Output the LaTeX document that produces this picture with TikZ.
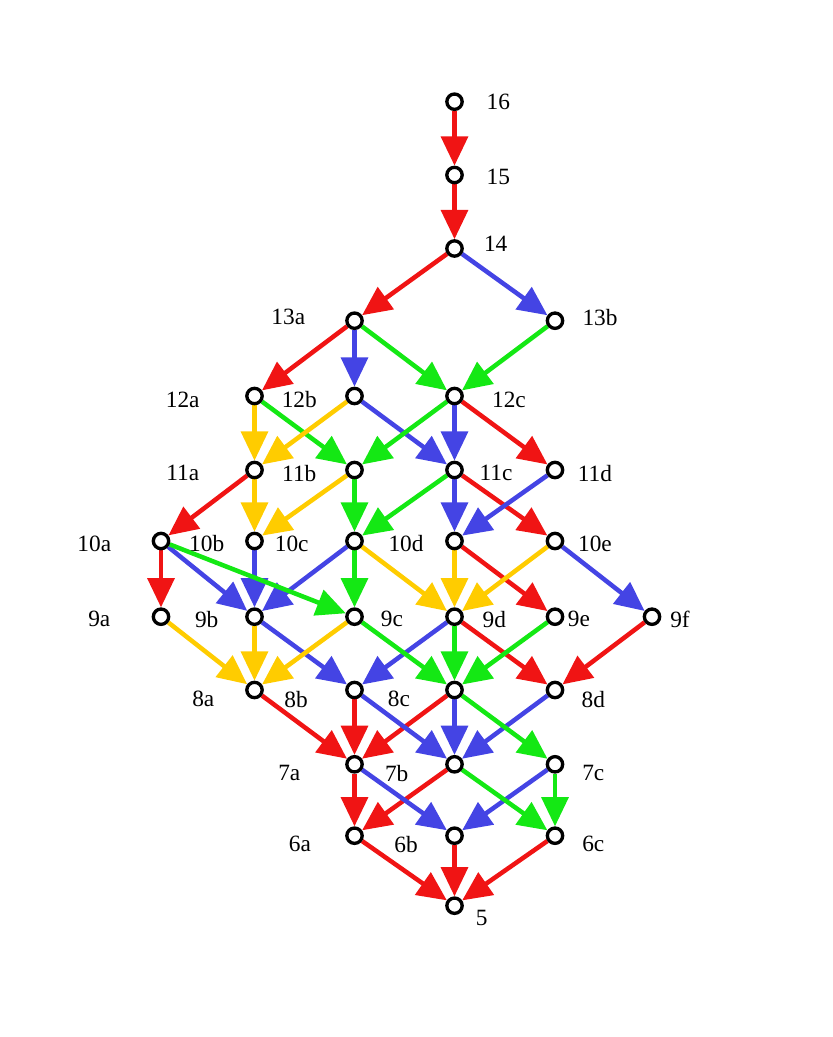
\documentclass[tikz,border=0pt]{standalone}
\usepackage{fontspec}
\setmainfont{Liberation Serif}
\usetikzlibrary{arrows.meta,backgrounds}
\definecolor{cred}{RGB}{240,20,20}
\definecolor{cblue}{RGB}{68,68,228}
\definecolor{cgreen}{RGB}{20,232,20}
\definecolor{cyel}{RGB}{255,204,0}
\begin{document}
\begin{tikzpicture}[x=0.75pt,y=-0.75pt,
  vtx/.style={circle,draw=black,fill=white,line width=2.5pt,minimum size=11.5pt,inner sep=0pt},
  lbl/.style={font=\fontsize{17.5}{17.5}\selectfont,inner sep=0pt},
  edge/.style={line width=3.4pt,-{Triangle[length=22pt,width=20pt]}},
  R/.style={edge,draw=cred,fill=cred},
  B/.style={edge,draw=cblue,fill=cblue},
  G/.style={edge,draw=cgreen,fill=cgreen},
  Y/.style={edge,draw=cyel,fill=cyel}]
\useasboundingbox (0,0) rectangle (832,1037);
% vertices
\node[vtx] (n16) at (454.5,101.7) {};
\node[vtx] (n15) at (454.5,175) {};
\node[vtx] (n14) at (454.5,248.5) {};
\node[vtx] (n13a) at (354.5,320.7) {};
\node[vtx] (n13b) at (555,320.7) {};
\node[vtx] (n12a) at (254.5,396) {};
\node[vtx] (n12b) at (354.5,396) {};
\node[vtx] (n12c) at (454.5,396) {};
\node[vtx] (n11a) at (254.5,470) {};
\node[vtx] (n11b) at (354.5,470) {};
\node[vtx] (n11c) at (454.5,470) {};
\node[vtx] (n11d) at (555,470) {};
\node[vtx] (n10a) at (161,541) {};
\node[vtx] (n10b) at (254.5,541) {};
\node[vtx] (n10c) at (354.5,541) {};
\node[vtx] (n10d) at (454.5,541) {};
\node[vtx] (n10e) at (555,541) {};
\node[vtx] (n9a) at (161,616.7) {};
\node[vtx] (n9b) at (254.5,616.7) {};
\node[vtx] (n9c) at (354.5,616.7) {};
\node[vtx] (n9d) at (454.5,616.7) {};
\node[vtx] (n9e) at (555,616.7) {};
\node[vtx] (n9f) at (652,616.7) {};
\node[vtx] (n8a) at (254.5,690) {};
\node[vtx] (n8b) at (354.5,690) {};
\node[vtx] (n8c) at (454.5,690) {};
\node[vtx] (n8d) at (555,690) {};
\node[vtx] (n7a) at (354.5,764.3) {};
\node[vtx] (n7b) at (454.5,764.3) {};
\node[vtx] (n7c) at (555,764.3) {};
\node[vtx] (n6a) at (354.5,835.7) {};
\node[vtx] (n6b) at (454.5,835.7) {};
\node[vtx] (n6c) at (555,835.7) {};
\node[vtx] (n5) at (454.5,905.7) {};
% labels
\node[lbl] (l16) at (498.3,102.3) {16};
\node[lbl] (l15) at (498.3,176.7) {15};
\node[lbl] (l14) at (495.7,243.3) {14};
\node[lbl] (l13a) at (288.3,317.3) {13a};
\node[lbl] (l13b) at (600,317.3) {13b};
\node[lbl] (l12a) at (182.7,399.5) {12a};
\node[lbl] (l12b) at (299.3,399.5) {12b};
\node[lbl] (l12c) at (509,399.5) {12c};
\node[lbl] (l11a) at (182.7,473.3) {11a};
\node[lbl] (l11b) at (299.3,473.3) {11b};
\node[lbl] (l11c) at (496,473.3) {11c};
\node[lbl] (l11d) at (595,473.3) {11d};
\node[lbl] (l10a) at (94.3,543.5) {10a};
\node[lbl] (l10b) at (206.7,543.5) {10b};
\node[lbl] (l10c) at (291.7,543.5) {10c};
\node[lbl] (l10d) at (406,543.5) {10d};
\node[lbl] (l10e) at (595,543.5) {10e};
\node[lbl] (l9a) at (99.3,619.3) {9a};
\node[lbl] (l9b) at (206.7,619.3) {9b};
\node[lbl] (l9c) at (392,619.3) {9c};
\node[lbl] (l9d) at (494.3,619.3) {9d};
\node[lbl] (l9e) at (579,619.3) {9e};
\node[lbl] (l9f) at (680,619.3) {9f};
\node[lbl] (l8a) at (203.3,699.3) {8a};
\node[lbl] (l8b) at (296,699.3) {8b};
\node[lbl] (l8c) at (399,699.3) {8c};
\node[lbl] (l8d) at (593.3,699.3) {8d};
\node[lbl] (l7a) at (289.3,773.3) {7a};
\node[lbl] (l7b) at (396.7,773.3) {7b};
\node[lbl] (l7c) at (593.3,773.3) {7c};
\node[lbl] (l6a) at (300,844.3) {6a};
\node[lbl] (l6b) at (406,844.3) {6b};
\node[lbl] (l6c) at (593.3,844.3) {6c};
\node[lbl] (l5) at (481.7,918.3) {5};
% edges
\begin{scope}[on background layer]
\foreach \a/\b in {16/15,15/14,14/13a,13a/12a,12c/11d,11a/10a,11c/10e,10a/9a,10d/9e,9d/8d,9f/8d,8a/7a,8b/7a,8c/7a,7a/6a,7b/6a,6a/5,6b/5,6c/5}
  \draw[R] (n\a) -- (n\b);
\foreach \a/\b in {14/13b,13a/12b,12b/11c,12c/11c,11c/10d,11d/10d,10a/9b,10b/9b,10c/9b,10e/9f,9b/8b,9d/8b,8b/7b,8c/7b,8d/7b,7a/6b,7c/6b}
  \draw[B] (n\a) -- (n\b);
\foreach \a/\b in {13a/12c,13b/12c,12a/11b,12c/11b,11b/10c,11c/10c,10a/9c,10c/9c,9c/8c,9d/8c,9e/8c,8c/7c,7b/6c,7c/6c}
  \draw[G] (n\a) -- (n\b);
\foreach \a/\b in {12a/11a,12b/11a,11a/10b,11b/10b,10c/9d,10d/9d,10e/9d,9a/8a,9b/8a,9c/8a}
  \draw[Y] (n\a) -- (n\b);
\end{scope}
\end{tikzpicture}
\end{document}
